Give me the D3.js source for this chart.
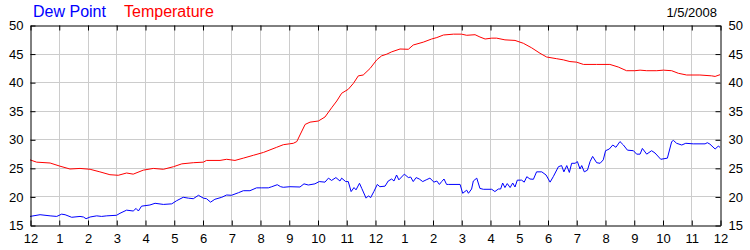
<!DOCTYPE html>
<html>
<head>
<meta charset="utf-8">
<script src="https://cdn.jsdelivr.net/npm/d3@7"></script>
<style>
  body { margin: 0; background: #fff; }
  svg { display: block; font-family: "Liberation Sans", Arial, sans-serif; }
</style>
</head>
<body>
<div id="chart-area"></div>
<script>
// hours since midnight, values in degrees
const tempHours = [0, 0.23, 0.70, 1.04, 1.39, 1.74, 2.09, 2.43, 2.78, 3.07, 3.36, 3.59, 3.94, 4.29, 4.64, 4.99,
  5.28, 5.68, 6.03, 6.14, 6.61, 6.84, 7.13, 7.42, 7.77, 8.12, 8.58, 8.81, 9.02, 9.16, 9.28, 9.39, 9.57, 9.74,
  10.03, 10.26, 10.49, 10.67, 10.84, 11.07, 11.25, 11.42, 11.59, 11.83, 12.06, 12.23, 12.41, 12.58, 12.87,
  13.16, 13.33, 13.68, 13.97, 14.15, 14.38, 14.73, 15.01, 15.19, 15.48, 15.65, 15.83, 16.06, 16.23, 16.52,
  16.87, 17.16, 17.45, 17.74, 17.97, 18.32, 18.55, 18.78, 19.01, 19.25, 19.71, 20.17, 20.46, 20.75, 21.04,
  21.22, 21.45, 21.80, 22.03, 22.32, 22.55, 22.84, 23.30, 23.71, 23.83, 24];
const tempValues = [26.4, 26.0, 25.85, 25.3, 24.8, 24.9, 24.75, 24.3, 23.8, 23.7, 24.1, 23.9, 24.6, 24.9, 24.75, 25.2,
  25.7, 25.9, 26.0, 26.3, 26.3, 26.5, 26.3, 26.7, 27.2, 27.7, 28.6, 29.05, 29.2, 29.3, 29.6, 30.75, 32.6, 33.0,
  33.2, 33.9, 35.5, 36.7, 38.05, 38.75, 39.8, 41.1, 41.25, 42.4, 43.9, 44.6, 44.9, 45.3, 45.8,
  45.75, 46.5, 47.0, 47.55, 47.8, 48.25, 48.4, 48.4, 48.2, 48.3, 47.9, 47.55, 47.7, 47.7, 47.4,
  47.3, 46.8, 46.0, 45.05, 44.4, 44.1, 43.9, 43.6, 43.5, 43.1, 43.1, 43.1, 42.65, 42.0, 42.0,
  42.1, 42.0, 42.0, 42.1, 42.0, 41.55, 41.25, 41.25, 41.1, 41.0, 41.3];

const dewHours = [0, 0.35, 0.70, 0.93, 1.10, 1.22, 1.45, 1.74, 1.86, 1.95, 2.09, 2.32, 2.49, 2.67, 3.01, 3.13,
  3.36, 3.59, 3.69, 3.77, 3.88, 4.17, 4.35, 4.64, 4.93, 5.10, 5.33, 5.51, 5.68, 5.86, 6.03, 6.14, 6.28, 6.43,
  6.67, 6.84, 7.01, 7.25, 7.42, 7.65, 7.88, 8.06, 8.29, 8.41, 8.60, 8.72, 8.81, 9.04, 9.39, 9.53, 9.68, 9.91,
  10.06, 10.26, 10.38, 10.49, 10.64, 10.78, 10.84, 10.98, 11.07, 11.17, 11.27, 11.34, 11.46, 11.54, 11.69,
  11.77, 11.85, 11.96, 12.08, 12.17, 12.35, 12.46, 12.58, 12.66, 12.75, 12.83, 13.02, 13.16, 13.24, 13.33,
  13.43, 13.54, 13.66, 13.78, 13.91, 14.05, 14.15, 14.24, 14.32, 14.40, 14.49, 14.55, 14.96, 15.05, 15.19,
  15.25, 15.36, 15.42, 15.54, 15.65, 15.77, 16.06, 16.17, 16.29, 16.37, 16.44, 16.52, 16.60, 16.70, 16.79,
  16.87, 16.95, 17.10, 17.19, 17.28, 17.39, 17.51, 17.62, 17.80, 17.95, 18.09, 18.20, 18.38, 18.49, 18.57,
  18.67, 18.76, 18.84, 18.96, 19.04, 19.13, 19.19, 19.28, 19.39, 19.48, 19.57, 19.71, 19.83, 19.94, 20.02,
  20.15, 20.27, 20.38, 20.52, 20.64, 20.78, 20.99, 21.10, 21.22, 21.30, 21.45, 21.62, 21.74, 21.94, 22.17,
  22.32, 22.38, 22.49, 22.67, 22.81, 23.07, 23.48, 23.56, 23.65, 23.83, 23.94, 24];
const dewValues = [16.5, 16.8, 16.6, 16.5, 16.9, 16.8, 16.35, 16.5, 16.4, 16.1, 16.4, 16.6, 16.5, 16.6, 16.7, 17.05,
  17.6, 17.45, 17.9, 17.45, 18.3, 18.5, 18.8, 18.6, 18.7, 19.25, 19.85, 19.7, 19.6, 20.2, 19.7, 19.6, 19.0, 19.5,
  19.85, 20.25, 20.2, 20.65, 21.0, 21.0, 21.5, 21.5, 21.5, 21.7, 22.05, 21.7, 21.6, 21.7, 21.65, 22.2, 22.0, 22.2,
  22.6, 22.5, 23.2, 22.8, 23.3, 22.7, 23.2, 22.6, 22.6, 20.85, 21.55, 21.15, 22.3, 21.4, 19.7,
  20.1, 19.8, 20.85, 22.1, 21.7, 21.8, 22.7, 23.05, 22.7, 23.75, 22.9, 23.9, 23.3, 23.4, 22.6,
  23.3, 23.05, 22.6, 22.9, 23.2, 22.5, 22.7, 22.1, 22.6, 23.05, 22.1, 22.1, 22.1, 20.55, 21.1,
  20.55, 21.3, 22.7, 23.2, 21.4, 21.25, 21.25, 20.85, 21.3, 21.3, 22.35, 21.55, 22.25, 21.55, 22.35,
  21.65, 22.85, 22.85, 22.5, 23.45, 23.05, 23.0, 24.3, 24.3, 23.75, 22.5, 23.45, 25.2, 25.4, 24.3,
  25.4, 24.2, 25.8, 25.8, 26.1, 24.8, 25.4, 24.3, 24.6, 26.1, 27.0, 25.9, 25.8, 26.4, 28.0,
  28.3, 29.0, 28.6, 29.6, 29.0, 28.1, 28.0, 27.4, 27.4, 28.4, 27.4, 28.0, 27.6, 26.5, 26.7,
  29.6, 29.8, 29.3, 29.0, 29.3, 29.2, 29.2, 29.4, 29.15, 28.3, 28.8, 28.6];

const hourLabels = ["12", "1", "2", "3", "4", "5", "6", "7", "8", "9", "10", "11",
  "12", "1", "2", "3", "4", "5", "6", "7", "8", "9", "10", "11", "12"];
const yTicks = [15, 20, 25, 30, 35, 40, 45, 50];

const margin = { left: 30, right: 30, top: 25, bottom: 25 };
const width = 750 - margin.left - margin.right,
    height = 250 - margin.top - margin.bottom;

const svg = d3.select("#chart-area")
    .append("svg")
    .attr("width", 750)
    .attr("height", 250);

const g = svg.append("g")
    .attr("transform", "translate(" + margin.left + ", " + margin.top + ")");

const x = d3.scaleLinear().domain([0, 24]).range([0, width]);
const y = d3.scaleLinear().domain([15, 50]).range([height, 0]);

// GRID
g.append("g").selectAll("line")
    .data(d3.range(1, 24))
    .enter().append("line")
    .attr("x1", d => Math.round(x(d)) + 0.5)
    .attr("x2", d => Math.round(x(d)) + 0.5)
    .attr("y1", 0)
    .attr("y2", height)
    .attr("stroke", "#cccccc");

g.append("g").selectAll("line")
    .data(yTicks.slice(1, -1))
    .enter().append("line")
    .attr("y1", d => Math.round(y(d)) + 0.5)
    .attr("y2", d => Math.round(y(d)) + 0.5)
    .attr("x1", 0)
    .attr("x2", width)
    .attr("stroke", "#cccccc");

// LINES
const line = d3.line()
    .x(d => x(d[0]))
    .y(d => y(d[1]));

g.append("path")
    .datum(d3.zip(tempHours, tempValues))
    .attr("fill", "none")
    .attr("stroke", "#ff0000")
    .attr("stroke-width", 1)
    .attr("d", line);

g.append("path")
    .datum(d3.zip(dewHours, dewValues))
    .attr("fill", "none")
    .attr("stroke", "#0000ff")
    .attr("stroke-width", 1)
    .attr("d", line);

// AXES (ticks point inward)
const hourTicks = d3.range(0, 25);

g.append("g")
    .attr("transform", "translate(0.5, " + (height + 0.5) + ")")
    .call(d3.axisBottom(x).tickValues(hourTicks).tickFormat(d => hourLabels[d])
        .tickSizeInner(-5).tickSizeOuter(0).tickPadding(8));

g.append("g")
    .attr("transform", "translate(0.5, 0.5)")
    .call(d3.axisTop(x).tickValues(hourTicks).tickFormat("")
        .tickSizeInner(-5).tickSizeOuter(0));

g.append("g")
    .attr("transform", "translate(0.5, 0.5)")
    .call(d3.axisLeft(y).tickValues(yTicks)
        .tickSizeInner(-5).tickSizeOuter(0).tickPadding(7));

g.append("g")
    .attr("transform", "translate(" + (width + 0.5) + ", 0.5)")
    .call(d3.axisRight(y).tickValues(yTicks)
        .tickSizeInner(-5).tickSizeOuter(0).tickPadding(8));

g.selectAll(".tick text")
    .attr("font-family", "'Liberation Sans', Arial, sans-serif")
    .attr("font-size", "13px")
    .attr("fill", "#000");

// LEGEND / TITLE
svg.append("text")
    .attr("x", 33)
    .attr("y", 17)
    .attr("font-size", "16px")
    .attr("fill", "#0000ff")
    .text("Dew Point");

svg.append("text")
    .attr("x", 124)
    .attr("y", 17)
    .attr("font-size", "16px")
    .attr("fill", "#ff0000")
    .text("Temperature");

svg.append("text")
    .attr("x", 717)
    .attr("y", 16.5)
    .attr("font-size", "13px")
    .attr("text-anchor", "end")
    .attr("fill", "#000")
    .text("1/5/2008");
</script>
</body>
</html>
